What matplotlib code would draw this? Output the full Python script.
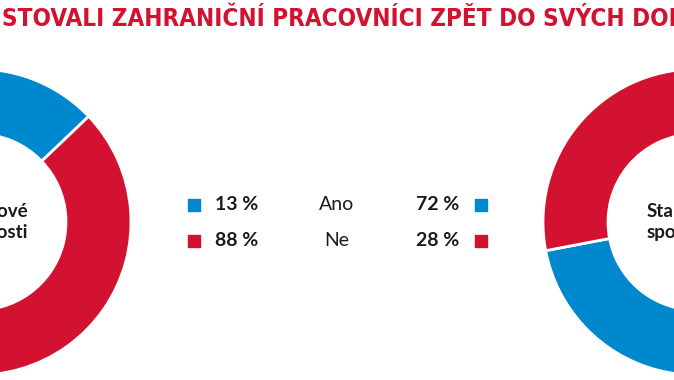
import numpy as np
import matplotlib.pyplot as plt
from matplotlib import font_manager

# data
answers = ["Ano", "Ne"]
left_values = [13, 88]     # levy prstenec
right_values = [72, 28]    # pravy prstenec
left_label = "Mzdové\npříležitosti"
right_label = "Stabilní\nspolečnost"
title = "STOVALI ZAHRANIČNÍ PRACOVNÍCI ZPĚT DO SVÝCH DOMOVŮ?"

BLUE = "#0088cf"
RED = "#d31130"
colors = [BLUE, RED]

W, H = 674, 380
names = {f.name for f in font_manager.fontManager.ttflist}
body_font = "Lato" if "Lato" in names else "DejaVu Sans"

fig = plt.figure(figsize=(W / 100, H / 100), dpi=100)
ax = fig.add_axes([0, 0, 1, 1])

R, ring = 153, 65
cy = H - 222
for vals, cx in [(left_values, -22), (right_values, W + 22)]:
    ax.pie(vals, colors=colors, startangle=90, counterclock=False, center=(cx, cy), radius=R,
           wedgeprops=dict(width=ring, edgecolor="white", linewidth=2))

# popisky uvnitr prstencu (jen cast je videt)
ax.text(28, cy, left_label, ha="right", va="center", multialignment="right", fontsize=13.5,
        fontweight="bold", family=body_font, color="#1a1a1a", linespacing=1.3)
ax.text(647, cy, right_label, ha="left", va="center", multialignment="left", fontsize=13.5,
        fontweight="bold", family=body_font, color="#1a1a1a", linespacing=1.3)

# legenda uprostred
rows_y = [H - 205, H - 241]
for i, ans in enumerate(answers):
    y = rows_y[i]
    ax.scatter([194, 481], [y, y], marker="s", s=80, color=colors[i], zorder=3)
    ax.text(215, y, f"{left_values[i]} %", ha="left", va="center", fontsize=14,
            fontweight="bold", family=body_font, color="#1a1a1a")
    ax.text(459, y, f"{right_values[i]} %", ha="right", va="center", fontsize=14,
            fontweight="bold", family=body_font, color="#1a1a1a")
    ax.text(337, y, ans, ha="center", va="center", fontsize=14, family=body_font, color="#1a1a1a")

ax.text(2, H - 19, title, ha="left", va="center", fontsize=17.4, fontweight="bold",
        family="DejaVu Sans", fontstretch="condensed", color=RED)

ax.set_xlim(0, W)
ax.set_ylim(0, H)
ax.set_aspect("auto")
ax.axis("off")
fig.savefig("out.png", dpi=100)
